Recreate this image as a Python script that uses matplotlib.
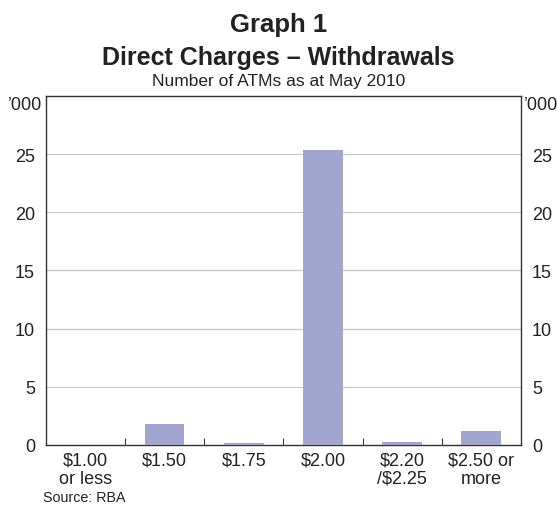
import matplotlib.pyplot as plt
import numpy as np

plt.rcParams['font.family'] = ['Liberation Sans', 'DejaVu Sans']
plt.rcParams['text.color'] = '#222222'
plt.rcParams['xtick.labelcolor'] = '#222222'
plt.rcParams['ytick.labelcolor'] = '#222222'

categories = ["$1.00\nor less", "$1.50", "$1.75", "$2.00", "$2.20\n/$2.25", "$2.50 or\nmore"]
atms = [0.03, 1.8, 0.2, 25.4, 0.25, 1.2]   # '000
yticks = [0, 5, 10, 15, 20, 25]

fig = plt.figure(figsize=(5.57, 5.06), dpi=100)
ax = fig.add_axes([0.0826, 0.1186, 0.8524, 0.6897])

x = np.arange(len(categories))
ax.bar(x, atms, width=0.5, color="#a2a6ce", zorder=3)

ax.set_xlim(-0.5, len(categories) - 0.5)
ax.set_ylim(0, 30)
ax.set_yticks(yticks)
ax.set_yticklabels([str(t) for t in yticks], fontsize=13)
ax.tick_params(axis="y", length=0, pad=8, labelright=True, right=True)
ax.grid(axis="y", color="#c8c8c8", linewidth=0.9, zorder=0)

# category labels, with ticks at the boundaries
ax.set_xticks(np.arange(0.5, len(categories) - 0.5), minor=False)
ax.set_xticklabels([])
ax.tick_params(axis="x", which="major", direction="in", length=5, color="#333333")
ax.set_xticks(x, minor=True)
ax.set_xticklabels(categories, minor=True, fontsize=13, linespacing=1.05)
ax.tick_params(axis="x", which="minor", length=0, pad=5)

for s in ax.spines.values():
    s.set_color("#333333")
    s.set_linewidth(1.0)

ax.text(-0.008, 0.977, "\u2019000", transform=ax.transAxes, ha="right", va="center", fontsize=13)
ax.text(1.006, 0.977, "\u2019000", transform=ax.transAxes, ha="left", va="center", fontsize=13)

fig.text(0.5, 0.951, "Graph 1", ha="center", va="center", fontsize=18.5, fontweight="bold")
fig.text(0.5, 0.886, "Direct Charges \u2013 Withdrawals", ha="center", va="center", fontsize=18, fontweight="bold")
fig.text(0.5, 0.838, "Number of ATMs as at May 2010", ha="center", va="center", fontsize=12.5)
fig.text(0.077, 0.016, "Source: RBA", ha="left", va="center", fontsize=10.3)

fig.savefig("out.png", dpi=100)
